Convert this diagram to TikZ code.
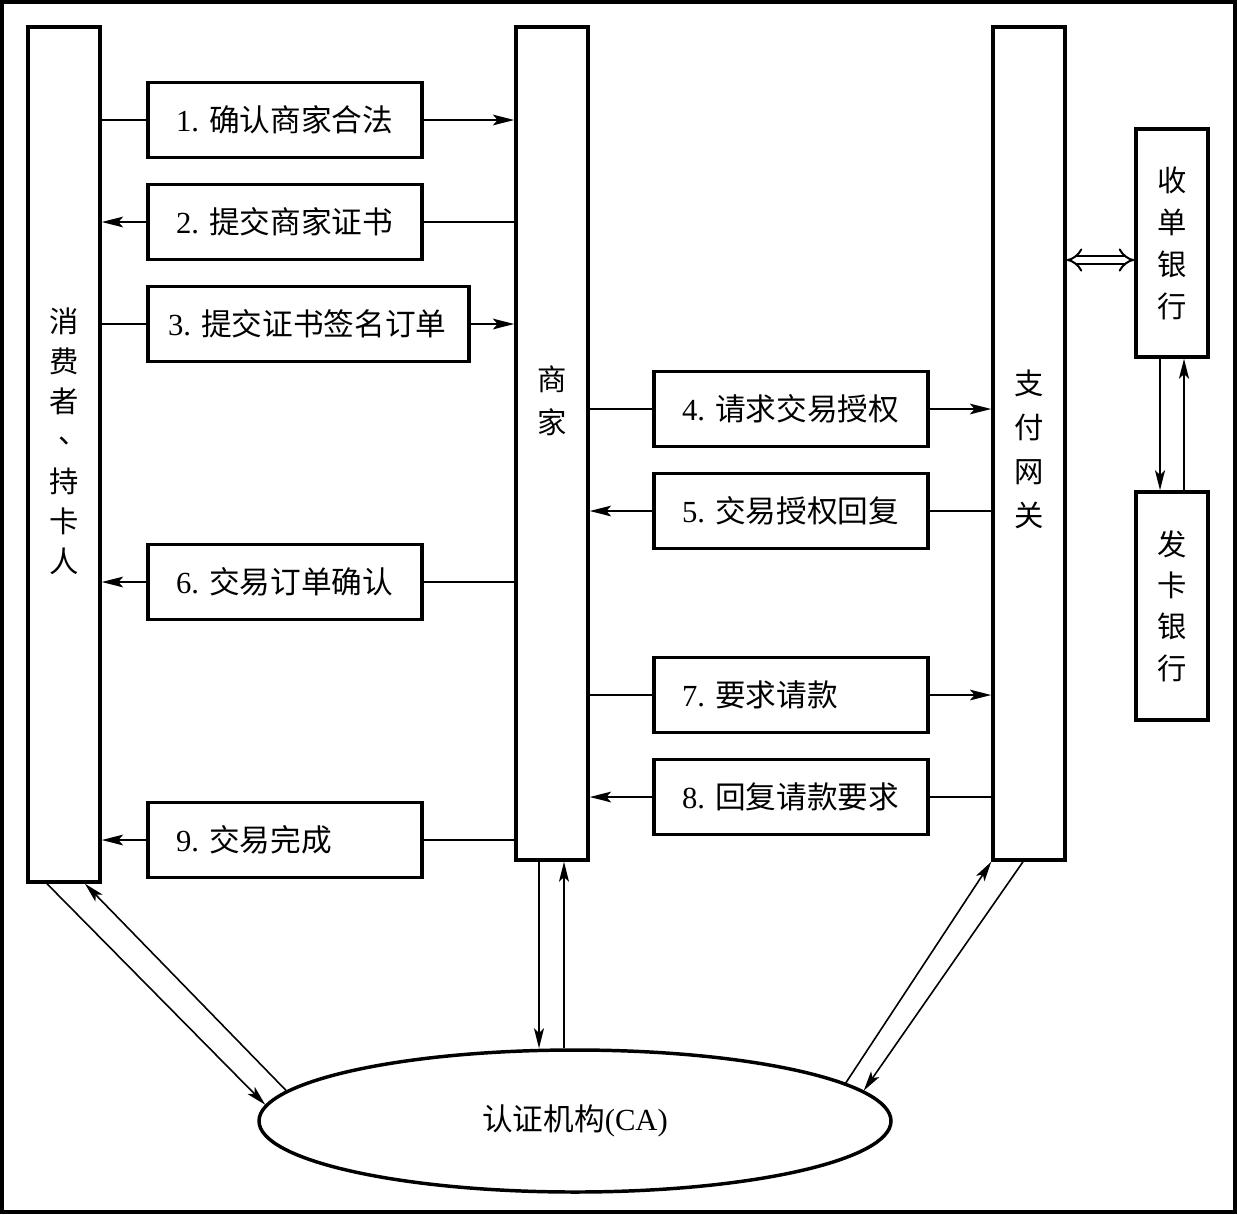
\documentclass[tikz,border=0pt]{standalone}
\usepackage{fontspec}
\setmainfont{Liberation Serif}
\newfontfamily\cjk{Noto Sans CJK SC}
\usetikzlibrary{arrows.meta,shapes.geometric,calc}
\begin{document}
\begin{tikzpicture}[x=0.75pt,y=-0.75pt,
  bigbox/.style={draw,line width=2.6pt,inner sep=0pt,minimum width=54pt},
  labbox/.style={draw,line width=2.6pt,minimum width=205.5pt,minimum height=56pt,
    inner xsep=21pt,inner ysep=0pt,text width=163.5pt,align=left,
    font=\fontsize{23}{28}\selectfont},
  vtext/.style={align=center,inner sep=0pt},
  ln/.style={line width=1.8pt},
  arr/.style={line width=1.8pt,-{Stealth[length=16pt,width=8pt,inset=3.5pt]}},
  arrthin/.style={line width=1.2pt,-{Stealth[length=15pt,width=7.5pt,inset=3.5pt]}}]
\useasboundingbox (0,0) rectangle (1237,1214);
\draw[line width=2.8pt] (2,2) rectangle (1235,1212);

% main columns
\node[bigbox,minimum height=641.25pt] (consumer) at (64,454.5) {};
\node[bigbox,minimum height=624.75pt] (merchant) at (552,443.5) {};
\node[bigbox,minimum height=624.75pt] (gateway) at (1029,443.5) {};
\node[bigbox,minimum height=171pt] (acq) at (1172,243) {};
\node[bigbox,minimum height=171pt] (iss) at (1172,606) {};

% column texts
\node[vtext,font=\cjk\fontsize{22}{30}\selectfont] (tconsumer) at (64,441)
  {消\\费\\者\\\makebox[1em][l]{\hspace{0.3em}\raisebox{0.3em}{、}}\\持\\卡\\人};
\node[vtext,font=\cjk\fontsize{22}{32}\selectfont] (tmerchant) at (552,401) {商\\家};
\node[vtext,font=\cjk\fontsize{22}{33}\selectfont] (tgateway) at (1029,449) {支\\付\\网\\关};
\node[vtext,font=\cjk\fontsize{22}{31.5}\selectfont] (tacq) at (1172,243) {收\\单\\银\\行};
\node[vtext,font=\cjk\fontsize{22}{31}\selectfont] (tiss) at (1172,606) {发\\卡\\银\\行};

% label boxes
\node[labbox] (l1) at (285,120) {1.\ {\cjk 确认商家合法}};
\node[labbox] (l2) at (285,222) {2.\ {\cjk 提交商家证书}};
\node[labbox,minimum width=240.75pt,inner xsep=15pt,text width=210.75pt] (l3) at (308.5,324) {3.\ {\cjk 提交证书签名订单}};
\node[labbox] (l4) at (791,409) {4.\ {\cjk 请求交易授权}};
\node[labbox] (l5) at (791,511) {5.\ {\cjk 交易授权回复}};
\node[labbox] (l6) at (285,582) {6.\ {\cjk 交易订单确认}};
\node[labbox] (l7) at (791,695) {7.\ {\cjk 要求请款}};
\node[labbox] (l8) at (791,797) {8.\ {\cjk 回复请款要求}};
\node[labbox] (l9) at (285,840) {9.\ {\cjk 交易完成}};

% CA ellipse
\node[draw,ellipse,line width=2.6pt,minimum width=474pt,minimum height=106.5pt,inner sep=0pt,
  font=\fontsize{23}{28}\selectfont] (ca) at (575,1121) {{\cjk 认证机构}(CA)};

% horizontal messages
\draw[ln] (consumer.east |- l1) -- (l1.west);
\draw[arr] (l1.east) -- (merchant.west |- l1);
\draw[ln] (merchant.west |- l2) -- (l2.east);
\draw[arr] (l2.west) -- (consumer.east |- l2);
\draw[ln] (consumer.east |- l3) -- (l3.west);
\draw[arr] (l3.east) -- (merchant.west |- l3);
\draw[ln] (merchant.east |- l4) -- (l4.west);
\draw[arr] (l4.east) -- (gateway.west |- l4);
\draw[ln] (gateway.west |- l5) -- (l5.east);
\draw[arr] (l5.west) -- (merchant.east |- l5);
\draw[ln] (merchant.west |- l6) -- (l6.east);
\draw[arr] (l6.west) -- (consumer.east |- l6);
\draw[ln] (merchant.east |- l7) -- (l7.west);
\draw[arr] (l7.east) -- (gateway.west |- l7);
\draw[ln] (gateway.west |- l8) -- (l8.east);
\draw[arr] (l8.west) -- (merchant.east |- l8);
\draw[ln] (merchant.west |- l9) -- (l9.east);
\draw[arr] (l9.west) -- (consumer.east |- l9);

% gateway <-> acquirer
\coordinate (dy) at (1100,260);
\draw[line width=1.5pt,double distance=4.5pt,{Implies}-{Implies}] (gateway.east |- dy) -- (acq.west |- dy);

% acquirer <-> issuer
\coordinate (b1) at ([xshift=-9pt]acq.south);
\coordinate (b2) at ([xshift=9pt]iss.north);
\draw[arrthin,line width=1.5pt] (b1) -- (b1 |- iss.north);
\draw[arrthin,line width=1.5pt] (b2) -- (b2 |- acq.south);

% consumer <-> CA
\coordinate (c1) at ([xshift=-12.75pt]consumer.south);
\coordinate (c2) at ([xshift=15.75pt]consumer.south);
\draw[arrthin] (c1) -- (ca.177.4);
\draw[arrthin] (ca.174.5) -- (c2);

% merchant <-> CA
\coordinate (m1) at ([xshift=-9.75pt]merchant.south);
\coordinate (m2) at ([xshift=9pt]merchant.south);
\draw[arrthin] (m1) -- (m1 |- ca.north);
\draw[arrthin] (m2 |- ca.north) -- (m2);

% gateway <-> CA
\coordinate (g2) at ([xshift=-4.5pt]gateway.south);
\draw[arrthin] (ca.8.4) -- (gateway.south west);
\draw[arrthin] (g2) -- (ca.6.3);
\end{tikzpicture}
\end{document}
